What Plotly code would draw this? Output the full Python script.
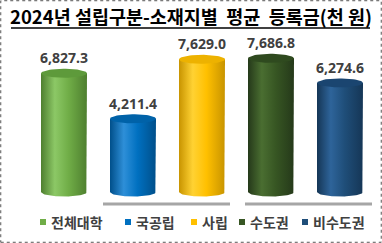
import plotly.graph_objects as go
import numpy as np

categories = ["전체대학", "국공립", "사립", "수도권", "비수도권"]
values = [6827.3, 4211.4, 7629.0, 7686.8, 6274.6]
labels = ["6,827.3", "4,211.4", "7,629.0", "7,686.8", "6,274.6"]
title = "2024년 설립구분-소재지별  평균  등록금(천 원)"

base_col = ["#70AD47", "#0070C0", "#FFC000", "#375623", "#1F4E79"]
dark_col = ["#4E7F2F", "#004F8A", "#C89400", "#25391A", "#153656"]
light_col = ["#8CC866", "#2E8FD8", "#FFD233", "#4A6E31", "#2E649A"]
top_col = ["#5E9A3B", "#0062A8", "#EDB200", "#2F4A1F", "#1A4570"]

W, H = 382, 243
PX = 57.5            # data units per pixel (vertical)
y0_px = 192          # baseline pixel
ymax = y0_px * PX
ymin = -(H - y0_px) * PX
xc0, xstep = 64, 69  # centre px of first bar, px per category
xmin = -xc0 / xstep
xmax = (W - xc0) / xstep

hw = 23 / xstep      # half width in x units
eh = 4.5 * PX        # ellipse half height in y units

fig = go.Figure()
t = np.linspace(0, np.pi, 40)
for i, v in enumerate(values):
    xs = [i - hw, i - hw, i + hw, i + hw] + list(i + hw * np.cos(t))
    ys = [0, v, v, 0] + list(-eh * np.sin(t))
    fig.add_trace(go.Scatter(
        x=xs, y=ys, mode="lines", line=dict(width=0), fill="toself",
        fillgradient=dict(type="horizontal",
                          colorscale=[[0, dark_col[i]], [0.3, light_col[i]],
                                      [0.6, base_col[i]], [1, dark_col[i]]]),
        showlegend=False, hoverinfo="skip"))
    tt = np.linspace(0, 2 * np.pi, 60)
    fig.add_trace(go.Scatter(
        x=list(i + hw * np.cos(tt)), y=list(v + eh * np.sin(tt)),
        mode="lines", line=dict(width=0), fill="toself", fillcolor=top_col[i],
        showlegend=False, hoverinfo="skip"))

# value labels as a text trace
fig.add_trace(go.Scatter(
    x=list(range(len(values))), y=[v + eh + 2 * PX for v in values],
    mode="text", text=["<b>" + s + "</b>" for s in labels],
    textposition="top center",
    textfont=dict(family="Noto Sans", size=14, color="#404040"),
    showlegend=False, hoverinfo="skip", cliponaxis=False))

# legend drawn as squares + text in paper coords
leg_sq_px = [43, 128, 194, 242, 305]
leg_y = (H - 222) / H
for i, c in enumerate(categories):
    x0 = leg_sq_px[i]
    fig.add_shape(type="rect", xref="paper", yref="paper",
                  x0=(x0 - 3) / W, x1=(x0 + 3) / W,
                  y0=(H - 225) / H, y1=(H - 219) / H,
                  fillcolor=base_col[i], line=dict(width=0))
    fig.add_annotation(xref="paper", yref="paper", x=(x0 + 6) / W, y=leg_y,
                       text="<b>" + c + "</b>", showarrow=False,
                       xanchor="left", yanchor="middle",
                       font=dict(family="Noto Sans CJK KR", size=14, color="#404040"))

# group bracket lines
fig.add_shape(type="line", x0=(103 - xc0) / xstep, x1=(230 - xc0) / xstep,
              y0=-12 * PX, y1=-12 * PX, line=dict(color="#A6A6A6", width=3))
fig.add_shape(type="line", x0=(245 - xc0) / xstep, x1=(372 - xc0) / xstep,
              y0=-12 * PX, y1=-12 * PX, line=dict(color="#A6A6A6", width=3))

# title
fig.add_annotation(xref="paper", yref="paper", x=0.5, y=(H - 16) / H,
                   text="<b>" + title + "</b>", showarrow=False,
                   yanchor="middle",
                   font=dict(family="Noto Sans CJK KR", size=18.5, color="#000000"))
fig.add_shape(type="line", xref="paper", yref="paper", x0=11 / W, x1=370 / W,
              y0=(H - 28) / H, y1=(H - 28) / H, line=dict(color="#000000", width=1.5))
# dotted border
fig.add_shape(type="rect", xref="paper", yref="paper", x0=0.002, x1=0.998, y0=0.003, y1=0.997,
              line=dict(color="#555555", width=1, dash="dot"))

fig.update_layout(
    width=W, height=H, margin=dict(l=0, r=0, t=0, b=0),
    paper_bgcolor="white", plot_bgcolor="white",
    xaxis=dict(range=[xmin, xmax], visible=False, fixedrange=True),
    yaxis=dict(range=[ymin, ymax], visible=False, fixedrange=True),
    showlegend=False,
)
fig.write_html("out.html")
